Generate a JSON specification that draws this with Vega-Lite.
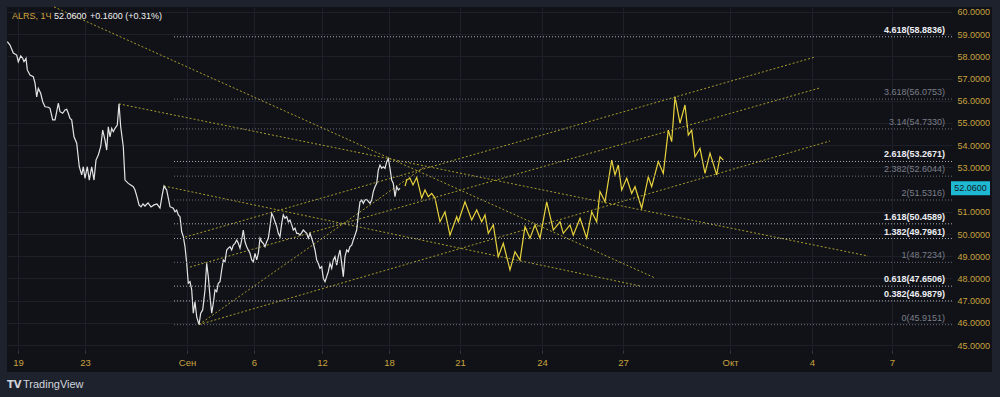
{
  "$schema": "https://vega.github.io/schema/vega-lite/v6.json",
  "width": 945,
  "height": 343,
  "autosize": {"type": "none"},
  "padding": {"left": 7, "top": 7, "right": 48, "bottom": 47},
  "background": "#101217",
  "config": {
    "view": {"fill": "#101217", "stroke": null},
    "font": "'Liberation Sans', sans-serif",
    "axis": {"labelOverlap": false}
  },
  "datasets": {
    "price": [
      {"bar":7.3,"price":58.66},{"bar":10,"price":58.51},{"bar":13.3,"price":58.15},{"bar":16.7,"price":58.06},{"bar":18.3,"price":57.76},{"bar":20.7,"price":58.02},{"bar":22.7,"price":57.91},{"bar":24,"price":57.76},{"bar":26,"price":57.91},{"bar":27.3,"price":57.39},{"bar":30,"price":57.16},{"bar":33.3,"price":57.09},{"bar":35,"price":56.8},{"bar":36.7,"price":56.18},{"bar":38.3,"price":56.56},{"bar":40.7,"price":56.34},{"bar":42.7,"price":55.96},{"bar":45,"price":55.73},{"bar":48.3,"price":55.71},{"bar":50,"price":55.66},{"bar":52.7,"price":55.14},{"bar":55,"price":55.14},{"bar":56.7,"price":55.51},{"bar":58.3,"price":55.89},{"bar":60,"price":55.51},{"bar":62.7,"price":55.44},{"bar":65,"price":55.59},{"bar":66.7,"price":55.62},{"bar":68.3,"price":55.44},{"bar":70,"price":55.21},{"bar":71.7,"price":55.14},{"bar":74,"price":54.38},{"bar":76.7,"price":54.09},{"bar":79.3,"price":53.03},{"bar":81.7,"price":52.66},{"bar":83.3,"price":53.03},{"bar":85,"price":52.51},{"bar":87.3,"price":53.03},{"bar":89.3,"price":52.43},{"bar":91.7,"price":53.03},{"bar":94,"price":52.43},{"bar":96,"price":53.33},{"bar":98.3,"price":53.56},{"bar":100.7,"price":53.93},{"bar":102.7,"price":54.68},{"bar":105,"price":54.23},{"bar":106.7,"price":53.78},{"bar":108.3,"price":54.83},{"bar":110,"price":54.38},{"bar":111.7,"price":54.76},{"bar":113.3,"price":54.61},{"bar":115,"price":54.76},{"bar":117.3,"price":54.91},{"bar":119,"price":55.86},{"bar":120.7,"price":54.83},{"bar":123.3,"price":53.93},{"bar":125,"price":52.43},{"bar":128.3,"price":52.28},{"bar":130.7,"price":52.21},{"bar":133.3,"price":52.13},{"bar":135,"price":51.98},{"bar":137,"price":51.67},{"bar":139,"price":51.31},{"bar":141,"price":51.22},{"bar":143,"price":51.35},{"bar":145,"price":51.26},{"bar":148,"price":51.4},{"bar":151,"price":51.22},{"bar":154,"price":51.31},{"bar":157,"price":51.35},{"bar":160,"price":51.17},{"bar":162,"price":51.71},{"bar":164,"price":52.16},{"bar":166.7,"price":51.98},{"bar":170,"price":51.23},{"bar":173.3,"price":51.16},{"bar":175,"price":51.0},{"bar":176.7,"price":51.08},{"bar":178.3,"price":50.86},{"bar":180,"price":50.78},{"bar":181.7,"price":50.1},{"bar":183.3,"price":49.88},{"bar":185,"price":49.43},{"bar":186.7,"price":48.68},{"bar":188.3,"price":47.78},{"bar":190,"price":47.85},{"bar":191.7,"price":47.48},{"bar":193.3,"price":46.43},{"bar":195,"price":46.95},{"bar":196.7,"price":46.27},{"bar":199,"price":45.92},{"bar":200.7,"price":46.43},{"bar":202.7,"price":46.58},{"bar":205,"price":47.48},{"bar":206.7,"price":48.68},{"bar":208.3,"price":48.08},{"bar":210,"price":47.18},{"bar":211.7,"price":46.43},{"bar":213.3,"price":46.88},{"bar":215,"price":47.48},{"bar":216.7,"price":47.4},{"bar":218.3,"price":47.78},{"bar":220,"price":47.85},{"bar":221.7,"price":48.38},{"bar":223.3,"price":48.83},{"bar":225,"price":48.75},{"bar":226.7,"price":49.28},{"bar":228.3,"price":49.36},{"bar":230,"price":49.43},{"bar":231.7,"price":49.28},{"bar":233.3,"price":49.5},{"bar":235,"price":49.58},{"bar":236.7,"price":49.73},{"bar":238.3,"price":49.58},{"bar":240,"price":49.36},{"bar":241.7,"price":49.73},{"bar":243.3,"price":50.18},{"bar":245,"price":49.65},{"bar":246.7,"price":49.43},{"bar":248.3,"price":49.28},{"bar":250,"price":49.13},{"bar":251.7,"price":48.83},{"bar":253.3,"price":48.75},{"bar":255,"price":49.13},{"bar":256.7,"price":48.83},{"bar":258.3,"price":49.13},{"bar":260,"price":49.81},{"bar":261.7,"price":49.65},{"bar":263.3,"price":49.58},{"bar":265,"price":49.43},{"bar":266.7,"price":49.65},{"bar":268.3,"price":49.81},{"bar":270,"price":50.33},{"bar":271.7,"price":50.93},{"bar":273.3,"price":50.78},{"bar":275,"price":50.55},{"bar":276.7,"price":50.33},{"bar":278.3,"price":50.03},{"bar":280,"price":49.88},{"bar":281.7,"price":50.48},{"bar":283.3,"price":50.86},{"bar":285,"price":50.71},{"bar":286.7,"price":50.78},{"bar":288.3,"price":50.55},{"bar":290,"price":50.63},{"bar":291.7,"price":50.41},{"bar":293.3,"price":50.18},{"bar":295,"price":50.26},{"bar":296.7,"price":50.03},{"bar":298.3,"price":50.03},{"bar":300,"price":49.95},{"bar":301.7,"price":50.06},{"bar":303.3,"price":50.18},{"bar":305,"price":50.1},{"bar":306.7,"price":50.03},{"bar":308.3,"price":49.81},{"bar":310,"price":50.03},{"bar":311.7,"price":49.81},{"bar":313.3,"price":49.58},{"bar":315,"price":49.28},{"bar":316.7,"price":48.83},{"bar":318.3,"price":48.68},{"bar":320,"price":48.45},{"bar":321.7,"price":48.53},{"bar":323.3,"price":48.0},{"bar":325,"price":47.85},{"bar":326.7,"price":48.08},{"bar":328.3,"price":48.3},{"bar":330,"price":48.68},{"bar":331.7,"price":48.45},{"bar":333.3,"price":48.83},{"bar":335,"price":48.98},{"bar":336.7,"price":48.6},{"bar":338.3,"price":48.98},{"bar":340,"price":49.28},{"bar":341.7,"price":48.68},{"bar":343.3,"price":48.08},{"bar":345,"price":48.98},{"bar":346.7,"price":49.28},{"bar":348.3,"price":49.2},{"bar":350,"price":49.43},{"bar":351.7,"price":49.5},{"bar":353.3,"price":49.73},{"bar":355,"price":49.95},{"bar":356.7,"price":50.18},{"bar":358.3,"price":50.86},{"bar":360,"price":51.45},{"bar":361.7,"price":51.53},{"bar":363.3,"price":51.38},{"bar":365,"price":51.53},{"bar":366.7,"price":51.56},{"bar":370,"price":51.38},{"bar":371.7,"price":51.53},{"bar":373.3,"price":51.91},{"bar":375,"price":52.13},{"bar":376.7,"price":52.28},{"bar":378.3,"price":52.88},{"bar":380,"price":53.11},{"bar":381.7,"price":52.96},{"bar":383.3,"price":53.03},{"bar":385,"price":52.96},{"bar":386.7,"price":53.26},{"bar":388.3,"price":53.4},{"bar":390,"price":52.96},{"bar":391.7,"price":52.43},{"bar":393.3,"price":52.28},{"bar":395,"price":51.68},{"bar":396.7,"price":52.13},{"bar":398.3,"price":51.98},{"bar":400,"price":52.06}
    ],
    "path": [
      {"bar":405,"price":52.16},{"bar":406.7,"price":52.43},{"bar":410,"price":52.51},{"bar":413,"price":52.21},{"bar":416.7,"price":52.55},{"bar":421.7,"price":51.62},{"bar":425,"price":51.98},{"bar":428.3,"price":51.68},{"bar":431.7,"price":51.83},{"bar":435,"price":51.62},{"bar":440,"price":50.55},{"bar":445,"price":51.0},{"bar":450,"price":49.95},{"bar":456.7,"price":50.78},{"bar":458.3,"price":50.55},{"bar":465,"price":51.45},{"bar":471.7,"price":50.63},{"bar":476.7,"price":51.08},{"bar":481.7,"price":50.55},{"bar":485,"price":50.86},{"bar":488.3,"price":50.03},{"bar":493.3,"price":50.41},{"bar":498.3,"price":48.98},{"bar":503.3,"price":49.58},{"bar":510,"price":48.38},{"bar":515,"price":49.2},{"bar":520,"price":48.83},{"bar":525,"price":50.33},{"bar":530,"price":49.81},{"bar":535,"price":50.41},{"bar":540,"price":49.81},{"bar":546.7,"price":51.45},{"bar":553.3,"price":50.18},{"bar":560,"price":50.55},{"bar":563.3,"price":50.03},{"bar":570,"price":50.41},{"bar":573.3,"price":49.95},{"bar":580,"price":50.71},{"bar":586.7,"price":49.81},{"bar":591.7,"price":51.0},{"bar":596.7,"price":50.55},{"bar":600,"price":51.91},{"bar":605,"price":51.45},{"bar":611.7,"price":53.33},{"bar":615,"price":52.66},{"bar":618.3,"price":53.11},{"bar":621.7,"price":51.98},{"bar":626.7,"price":52.51},{"bar":631.7,"price":51.83},{"bar":635,"price":52.13},{"bar":641.7,"price":51.16},{"bar":648.3,"price":52.58},{"bar":651.7,"price":52.13},{"bar":658.3,"price":53.26},{"bar":663.3,"price":52.73},{"bar":668.3,"price":54.68},{"bar":671.7,"price":54.16},{"bar":675,"price":56.18},{"bar":680,"price":54.99},{"bar":685,"price":55.81},{"bar":688.3,"price":54.46},{"bar":691.7,"price":54.68},{"bar":695,"price":53.48},{"bar":700,"price":53.86},{"bar":705,"price":52.73},{"bar":710,"price":53.64},{"bar":716.7,"price":52.66},{"bar":720,"price":53.48},{"bar":723.3,"price":53.33}
    ],
    "trend": [
      {"id":"A","bar":54,"price":60.23},{"id":"A","bar":655,"price":48.02},
      {"id":"B","bar":119,"price":55.86},{"id":"B","bar":868,"price":49.01},
      {"id":"C","bar":164,"price":52.16},{"id":"C","bar":640,"price":47.66},
      {"id":"U1","bar":185,"price":49.86},{"id":"U1","bar":815,"price":57.97},
      {"id":"U2","bar":190,"price":48.51},{"id":"U2","bar":820,"price":56.58},
      {"id":"L","bar":199,"price":45.92},{"id":"L","bar":830,"price":54.19},
      {"id":"S","bar":199,"price":45.92},{"id":"S","bar":425,"price":53.04}
    ],
    "fib": [
      {"label":"4.618(58.8836)","price":58.8836,"kind":"major"},
      {"label":"3.618(56.0753)","price":56.0753,"kind":"minor"},
      {"label":"3.14(54.7330)","price":54.733,"kind":"minor"},
      {"label":"2.618(53.2671)","price":53.2671,"kind":"major"},
      {"label":"2.382(52.6044)","price":52.6044,"kind":"minor"},
      {"label":"2(51.5316)","price":51.5316,"kind":"minor"},
      {"label":"1.618(50.4589)","price":50.4589,"kind":"major"},
      {"label":"1.382(49.7961)","price":49.7961,"kind":"major"},
      {"label":"1(48.7234)","price":48.7234,"kind":"minor"},
      {"label":"0.618(47.6506)","price":47.6506,"kind":"major"},
      {"label":"0.382(46.9879)","price":46.9879,"kind":"major"},
      {"label":"0(45.9151)","price":45.9151,"kind":"minor"}
    ],
    "one": [{"lastPrice": "52.0600", "ticker": "ALRS, 1Ч", "change": "+0.1600 (+0.31%)", "logo": "TV", "brand": "TradingView"}]
  },
  "layer": [
    {
      "data": {"name": "one"},
      "mark": {"type": "rect", "color": "#1e222d"},
      "encoding": {
        "x": {"datum": 0, "type": "quantitative", "scale": {"domain": [7, 952], "nice": false, "zero": false}},
        "x2": {"datum": 7},
        "y": {"datum": 60.5405, "type": "quantitative", "scale": {"domain": [44.775, 60.225], "nice": false, "zero": false}},
        "y2": {"datum": 42.658}
      }
    },
    {
      "data": {"name": "one"},
      "mark": {"type": "rect", "color": "#1e222d"},
      "encoding": {
        "x": {"datum": 992, "type": "quantitative", "scale": {"domain": [7, 952], "nice": false, "zero": false}},
        "x2": {"datum": 1000},
        "y": {"datum": 60.5405, "type": "quantitative", "scale": {"domain": [44.775, 60.225], "nice": false, "zero": false}},
        "y2": {"datum": 42.658}
      }
    },
    {
      "data": {"name": "one"},
      "mark": {"type": "rect", "color": "#1e222d"},
      "encoding": {
        "x": {"datum": 0, "type": "quantitative", "scale": {"domain": [7, 952], "nice": false, "zero": false}},
        "x2": {"datum": 1000},
        "y": {"datum": 60.5405, "type": "quantitative", "scale": {"domain": [44.775, 60.225], "nice": false, "zero": false}},
        "y2": {"datum": 60.225}
      }
    },
    {
      "data": {"name": "one"},
      "mark": {"type": "rect", "color": "#1e222d"},
      "encoding": {
        "x": {"datum": 0, "type": "quantitative", "scale": {"domain": [7, 952], "nice": false, "zero": false}},
        "x2": {"datum": 1000},
        "y": {"datum": 43.784, "type": "quantitative", "scale": {"domain": [44.775, 60.225], "nice": false, "zero": false}},
        "y2": {"datum": 42.658}
      }
    },
    {
      "data": {"name": "trend"},
      "mark": {"type": "line", "strokeDash": [2, 2], "strokeWidth": 1, "color": "#a89a2c"},
      "encoding": {
        "x": {"field": "bar", "type": "quantitative", "scale": {"domain": [7, 952], "nice": false, "zero": false}},
        "y": {"field": "price", "type": "quantitative", "scale": {"domain": [44.775, 60.225], "nice": false, "zero": false}},
        "detail": {"field": "id"}
      }
    },
    {
      "data": {"name": "price"},
      "mark": {"type": "line", "strokeWidth": 1.2, "color": "#e4e4e4"},
      "encoding": {
        "x": {
          "field": "bar", "type": "quantitative",
          "scale": {"domain": [7, 952], "nice": false, "zero": false},
          "axis": {
            "title": null, "zindex": 0, "domain": false,
            "values": [18, 85, 187, 254, 322, 389, 460, 542, 623, 730, 812, 892],
            "tickCount": 30,
            "labelExpr": "datum.value == 18 ? '19' : datum.value == 85 ? '23' : datum.value == 187 ? 'Сен' : datum.value == 254 ? '6' : datum.value == 322 ? '12' : datum.value == 389 ? '18' : datum.value == 460 ? '21' : datum.value == 542 ? '24' : datum.value == 623 ? '27' : datum.value == 730 ? 'Окт' : datum.value == 812 ? '4' : '7'",
            "grid": true, "gridColor": "#1d2028", "gridWidth": 1,
            "ticks": true, "tickSize": 3, "tickColor": "#363a45",
            "labelColor": "#c9a23f", "labelFontSize": 9.5, "labelPadding": 4,
            "labelFlush": false, "labelOverlap": false
          }
        },
        "y": {
          "field": "price", "type": "quantitative",
          "scale": {"domain": [44.775, 60.225], "nice": false, "zero": false},
          "axis": {
            "title": null, "zindex": 0, "orient": "right", "domain": false,
            "values": [45, 46, 47, 48, 49, 50, 51, 53, 54, 55, 56, 57, 58, 59, 60],
            "tickCount": 30,
            "format": ".4f",
            "grid": true, "gridColor": "#1d2028", "gridWidth": 1,
            "ticks": false, "labelColor": "#c9a23f", "labelFontSize": 9,
            "labelPadding": 5, "labelBaseline": "middle", "labelOverlap": false, "labelFlush": false
          }
        }
      }
    },
    {
      "data": {"name": "path"},
      "mark": {"type": "line", "strokeWidth": 1.2, "color": "#e8d33c"},
      "encoding": {
        "x": {"field": "bar", "type": "quantitative", "scale": {"domain": [7, 952], "nice": false, "zero": false}},
        "y": {"field": "price", "type": "quantitative", "scale": {"domain": [44.775, 60.225], "nice": false, "zero": false}}
      }
    },
    {
      "data": {"name": "fib"},
      "mark": {"type": "rule", "strokeDash": [1, 2], "strokeWidth": 1},
      "encoding": {
        "x": {"datum": 174, "type": "quantitative", "scale": {"domain": [7, 952], "nice": false, "zero": false}},
        "x2": {"datum": 952},
        "y": {"field": "price", "type": "quantitative", "scale": {"domain": [44.775, 60.225], "nice": false, "zero": false}},
        "color": {"condition": {"test": "datum.kind == 'major'", "value": "#a9acb4"}, "value": "#6b6e78"}
      }
    },
    {
      "data": {"name": "fib"},
      "transform": [{"filter": "datum.kind == 'major'"}],
      "mark": {"type": "text", "align": "right", "baseline": "bottom", "dy": -2, "fontSize": 9, "fontWeight": "bold", "color": "#eceef3"},
      "encoding": {
        "x": {"datum": 945, "type": "quantitative", "scale": {"domain": [7, 952], "nice": false, "zero": false}},
        "y": {"field": "price", "type": "quantitative", "scale": {"domain": [44.775, 60.225], "nice": false, "zero": false}},
        "text": {"field": "label"}
      }
    },
    {
      "data": {"name": "fib"},
      "transform": [{"filter": "datum.kind == 'minor'"}],
      "mark": {"type": "text", "align": "right", "baseline": "bottom", "dy": -2, "fontSize": 9, "color": "#7b7e89"},
      "encoding": {
        "x": {"datum": 945, "type": "quantitative", "scale": {"domain": [7, 952], "nice": false, "zero": false}},
        "y": {"field": "price", "type": "quantitative", "scale": {"domain": [44.775, 60.225], "nice": false, "zero": false}},
        "text": {"field": "label"}
      }
    },
    {
      "data": {"name": "one"},
      "mark": {"type": "rect", "color": "#1fb8d2"},
      "encoding": {
        "x": {"datum": 951, "type": "quantitative", "scale": {"domain": [7, 952], "nice": false, "zero": false}},
        "x2": {"datum": 990},
        "y": {"datum": 52.38, "type": "quantitative", "scale": {"domain": [44.775, 60.225], "nice": false, "zero": false}},
        "y2": {"datum": 51.74}
      }
    },
    {
      "data": {"name": "one"},
      "mark": {"type": "text", "align": "center", "baseline": "middle", "fontSize": 9, "color": "#131722"},
      "encoding": {
        "x": {"datum": 970.5, "type": "quantitative", "scale": {"domain": [7, 952], "nice": false, "zero": false}},
        "y": {"datum": 52.06, "type": "quantitative", "scale": {"domain": [44.775, 60.225], "nice": false, "zero": false}},
        "text": {"field": "lastPrice"}
      }
    },
    {
      "data": {"name": "one"},
      "mark": {"type": "text", "align": "left", "baseline": "middle", "fontSize": 9, "color": "#d0a43c"},
      "encoding": {
        "x": {"datum": 12, "type": "quantitative", "scale": {"domain": [7, 952], "nice": false, "zero": false}},
        "y": {"datum": 59.82, "type": "quantitative", "scale": {"domain": [44.775, 60.225], "nice": false, "zero": false}},
        "text": {"field": "ticker"}
      }
    },
    {
      "data": {"name": "one"},
      "mark": {"type": "text", "align": "left", "baseline": "middle", "fontSize": 9, "color": "#f0f0f0"},
      "encoding": {
        "x": {"datum": 54, "type": "quantitative", "scale": {"domain": [7, 952], "nice": false, "zero": false}},
        "y": {"datum": 59.82, "type": "quantitative", "scale": {"domain": [44.775, 60.225], "nice": false, "zero": false}},
        "text": {"field": "lastPrice"}
      }
    },
    {
      "data": {"name": "one"},
      "mark": {"type": "text", "align": "left", "baseline": "middle", "fontSize": 9, "color": "#f0f0f0"},
      "encoding": {
        "x": {"datum": 90, "type": "quantitative", "scale": {"domain": [7, 952], "nice": false, "zero": false}},
        "y": {"datum": 59.82, "type": "quantitative", "scale": {"domain": [44.775, 60.225], "nice": false, "zero": false}},
        "text": {"field": "change"}
      }
    },
    {
      "data": {"name": "one"},
      "mark": {"type": "text", "align": "left", "baseline": "middle", "fontSize": 10, "fontWeight": 900, "color": "#d1d4dc", "font": "DejaVu Sans"},
      "encoding": {
        "x": {"datum": 7, "type": "quantitative", "scale": {"domain": [7, 952], "nice": false, "zero": false}},
        "y": {"datum": 43.22, "type": "quantitative", "scale": {"domain": [44.775, 60.225], "nice": false, "zero": false}},
        "text": {"field": "logo"}
      }
    },
    {
      "data": {"name": "one"},
      "mark": {"type": "text", "align": "left", "baseline": "middle", "fontSize": 11, "color": "#d1d4dc"},
      "encoding": {
        "x": {"datum": 23, "type": "quantitative", "scale": {"domain": [7, 952], "nice": false, "zero": false}},
        "y": {"datum": 43.22, "type": "quantitative", "scale": {"domain": [44.775, 60.225], "nice": false, "zero": false}},
        "text": {"field": "brand"}
      }
    }
  ]
}
